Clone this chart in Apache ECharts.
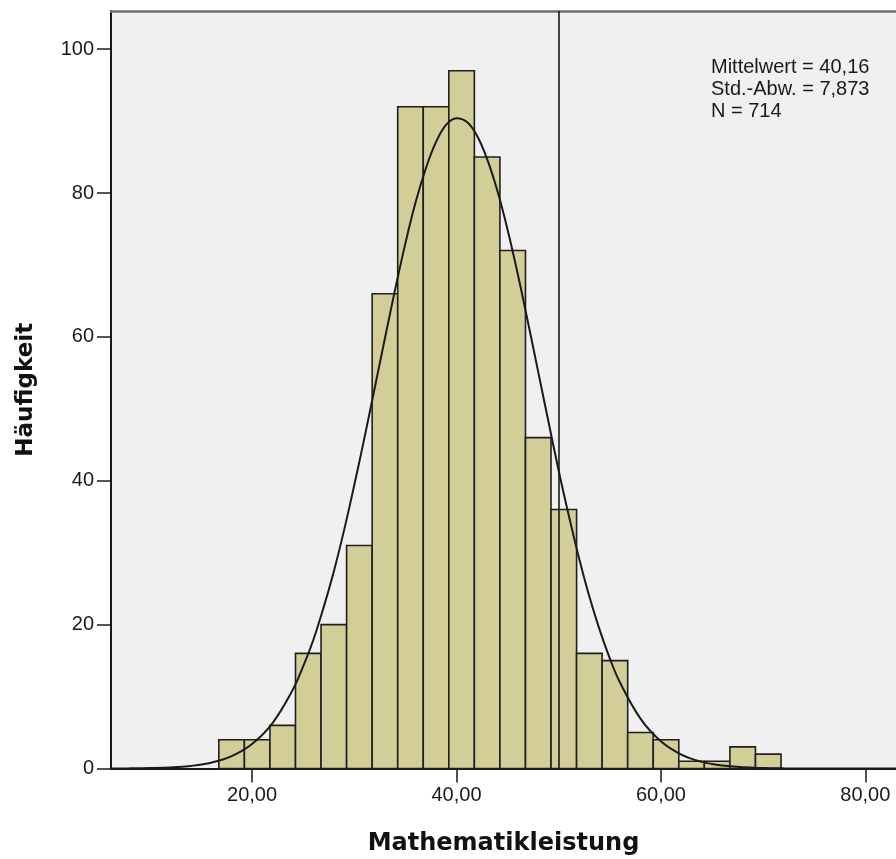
<!DOCTYPE html>
<html>
<head>
<meta charset="utf-8">
<script src="https://cdn.jsdelivr.net/npm/echarts@6/dist/echarts.min.js"></script>
<style>
  html, body { margin: 0; padding: 0; background: #ffffff; }
  #chart { width: 896px; height: 859px; }
</style>
</head>
<body>
<div id="chart"></div>
<script>
// ---- Data ----
const binStarts = [16.75, 19.25, 21.75, 24.25, 26.75, 29.25, 31.75, 34.25, 36.75, 39.25, 41.75,
                   44.25, 46.75, 49.25, 51.75, 54.25, 56.75, 59.25, 61.75, 64.25, 66.75, 69.25];
const binWidth = 2.5;
const counts = [4, 4, 6, 16, 20, 31, 66, 92, 92, 97, 85, 72, 46, 36, 16, 15, 5, 4, 1, 1, 3, 2];

// normal curve values
const curveX = [6, 8, 10, 12, 14, 16, 18, 20, 22, 24, 25, 26, 27, 28, 29, 30, 31, 32, 33, 34, 35,
                36, 37, 38, 39, 40, 41, 42, 43, 44, 45, 46, 47, 48, 49, 50, 51, 52, 53, 54, 55, 56,
                58, 60, 62, 64, 66, 68, 70, 72, 74, 76, 78, 80, 82, 84];
const curveY = [0.007, 0.02, 0.06, 0.15, 0.36, 0.81, 1.72, 3.41, 6.32, 11.0, 14.2, 17.9, 22.4, 27.4,
                33.1, 39.4, 46.0, 52.9, 59.8, 66.6, 73.0, 78.7, 83.4, 87.1, 89.5, 90.4, 89.9, 88.0,
                84.7, 80.3, 74.9, 68.7, 62.0, 55.1, 48.2, 41.4, 35.1, 29.2, 23.9, 19.3, 15.3, 11.95,
                6.94, 3.78, 1.93, 0.92, 0.41, 0.17, 0.07, 0.025, 0.009, 0.003, 0.001, 0, 0, 0];

const xTickValues = [20, 40, 60, 80];
const yTickValues = [0, 20, 40, 60, 80, 100];
const referenceX = 50;
const statsLines = ['Mittelwert = 40,16', 'Std.-Abw. = 7,873', 'N = 714'];
const xTitle = 'Mathematikleistung';
const yTitle = 'Häufigkeit';

// ---- Build chart ----
const chart = echarts.init(document.getElementById('chart'), null, { renderer: 'canvas' });

const histData = binStarts.map((s, i) => [s, s + binWidth, counts[i]]);
const curveData = curveX.map((x, i) => [x, curveY[i]]);

const tickFont = { fontFamily: 'Liberation Sans, Arial, sans-serif', fontSize: 20, color: '#1a1a1a' };

const option = {
  animation: false,
  backgroundColor: '#ffffff',
  grid: {
    left: 111, top: 11, right: 0, bottom: 90.5,
    outerBoundsMode: 'none',
    containLabel: false,
    show: true, backgroundColor: '#f0f0f0', borderWidth: 0
  },
  xAxis: [{
    type: 'value', min: 6.2, max: 83.0,
    name: xTitle, nameLocation: 'middle', nameGap: 63,
    nameTextStyle: { fontFamily: 'DejaVu Sans', fontWeight: 'bold', fontSize: 24, color: '#111' },
    axisLine: { show: true, onZero: false, lineStyle: { color: '#1a1a1a', width: 2 } },
    axisTick: { show: true, length: 14, customValues: xTickValues, lineStyle: { color: '#1a1a1a', width: 1.5 } },
    axisLabel: Object.assign({ margin: 17, customValues: xTickValues,
      formatter: v => v.toFixed(2).replace('.', ',') }, tickFont),
    splitLine: { show: false }
  }, {
    type: 'value', min: 6.2, max: 83.0, position: 'top',
    axisLine: { show: true, onZero: false, lineStyle: { color: '#6e6e6e', width: 2.5 } },
    axisTick: { show: false }, axisLabel: { show: false }, splitLine: { show: false }
  }],
  yAxis: {
    type: 'value', min: 0, max: 105.3,
    name: yTitle, nameLocation: 'middle', nameGap: 73, nameRotate: 90,
    nameTextStyle: { fontFamily: 'DejaVu Sans', fontWeight: 'bold', fontSize: 23, color: '#111' },
    axisLine: { show: true, lineStyle: { color: '#1a1a1a', width: 2 } },
    axisTick: { show: true, length: 14, customValues: yTickValues, lineStyle: { color: '#1a1a1a', width: 1.5 } },
    axisLabel: Object.assign({ margin: 17, customValues: yTickValues }, tickFont),
    splitLine: { show: false }
  },
  series: [
    {
      type: 'custom',
      data: histData,
      encode: { x: [0, 1], y: 2 },
      z: 2,
      renderItem: function (params, api) {
        const p0 = api.coord([api.value(0), api.value(2)]);
        const p1 = api.coord([api.value(1), 0]);
        return {
          type: 'rect',
          shape: { x: p0[0], y: p0[1], width: p1[0] - p0[0], height: p1[1] - p0[1] },
          style: { fill: '#d3ce97', stroke: '#1f1f1f', lineWidth: 1.6 }
        };
      }
    },
    {
      type: 'line',
      data: [],
      z: 3,
      markLine: {
        silent: true, symbol: ['none', 'none'], label: { show: false },
        lineStyle: { color: '#1a1a1a', width: 1.6, type: 'solid' },
        data: [{ xAxis: referenceX }]
      }
    },
    {
      type: 'line',
      data: curveData,
      smooth: 0.4,
      showSymbol: false,
      z: 4,
      lineStyle: { color: '#1a1a1a', width: 2 }
    }
  ],
  graphic: [
    {
      type: 'text', left: 711, top: 57, z: 10,
      style: {
        text: statsLines.join('\n'),
        font: '20px "Liberation Sans", Arial, sans-serif',
        lineHeight: 21.7,
        fill: '#1a1a1a'
      }
    }
  ]
};

chart.setOption(option);
</script>
</body>
</html>
